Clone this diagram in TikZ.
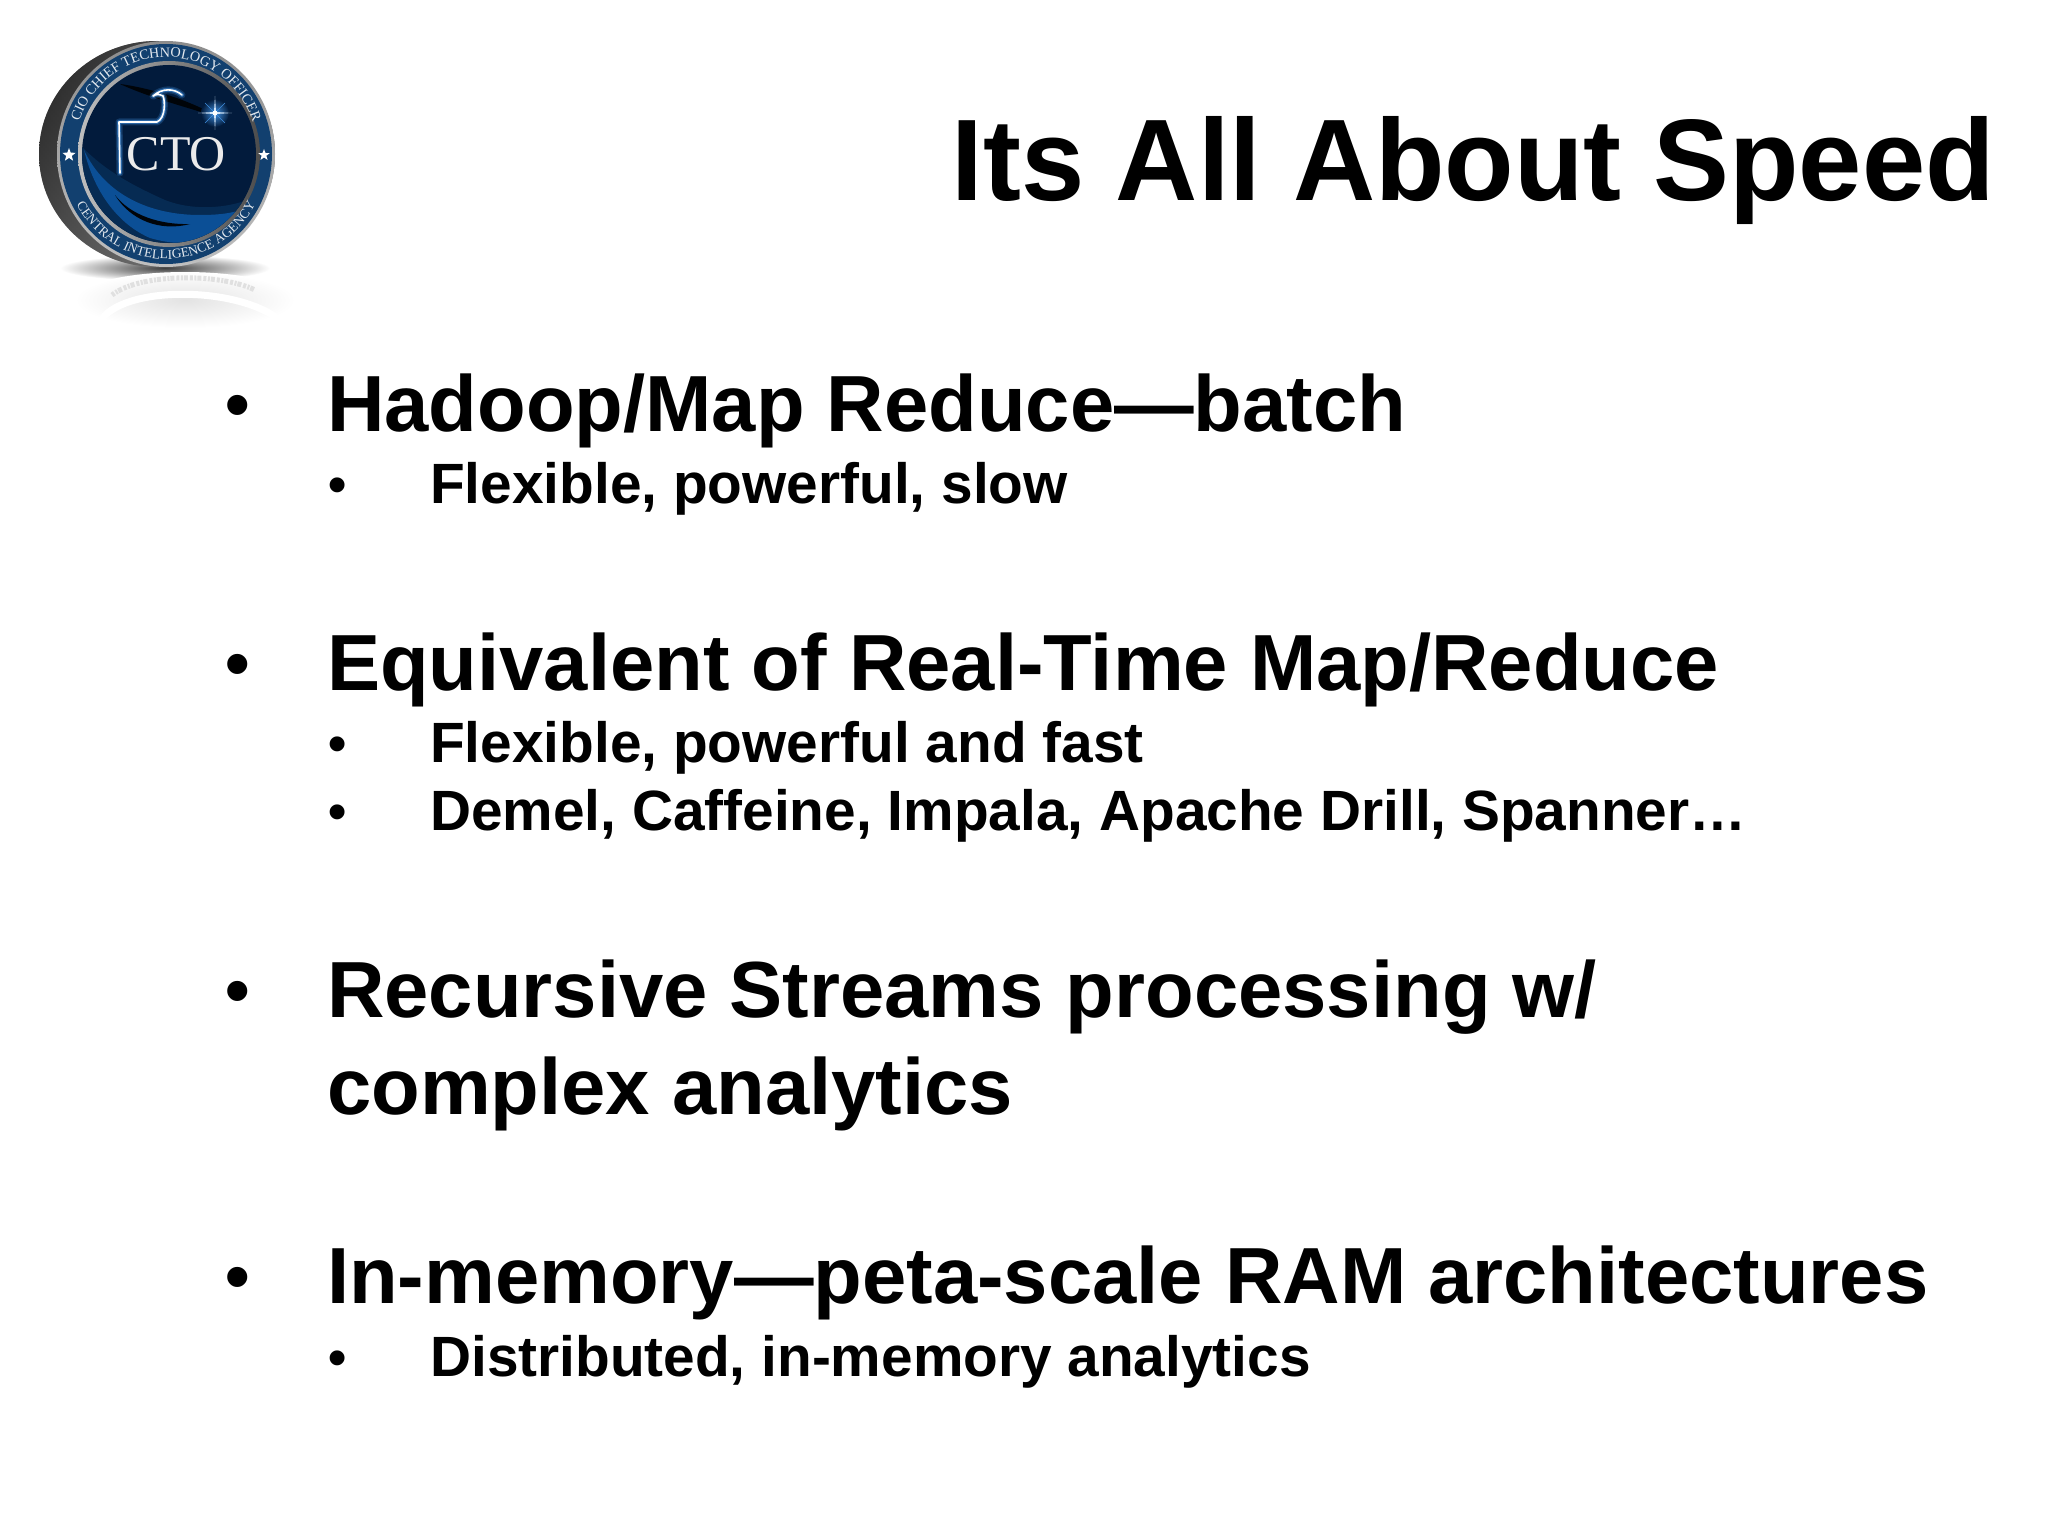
\documentclass[tikz,border=0pt]{standalone}
\usepackage{fontspec}
\setmainfont{Liberation Sans}
\newfontfamily\serifring{Liberation Serif}
\usetikzlibrary{decorations.text,shapes.geometric}
\definecolor{ringblue}{HTML}{12406F}
\definecolor{diskdark}{HTML}{021B3C}
\definecolor{swoosh}{HTML}{0B4F96}
\definecolor{glow}{HTML}{3F8FE0}
\newcommand{\ringfont}{\serifring\fontsize{14.2}{14.2}\selectfont\color{white!88!ringblue}}
\newcommand{\ringfontb}{\serifring\fontsize{13.4}{13.4}\selectfont\color{white!88!ringblue}}
\tikzset{
  x=1pt,y=-1pt,
  head/.style={anchor=base east,inner sep=0pt,font=\fontsize{116}{116}\selectfont\bfseries},
  lvlone/.style={anchor=base west,inner sep=0pt,font=\fontsize{79.6}{80}\selectfont\bfseries},
  lvltwo/.style={anchor=base west,inner sep=0pt,font=\fontsize{56.8}{57}\selectfont\bfseries},
  bulone/.style={anchor=base west,inner sep=0pt,font=\fontsize{70}{70}\selectfont\bfseries},
  bultwo/.style={anchor=base west,inner sep=0pt,font=\fontsize{52}{52}\selectfont\bfseries},
  ringstar/.style={star,star points=5,star point ratio=2.4,fill=white,inner sep=0pt,minimum size=14pt},
}
\begin{document}
\begin{tikzpicture}
\useasboundingbox (0,0) rectangle (2048,1536);
\fill[white] (0,0) rectangle (2048,1536);
% --- logo: ground shadow and reflection
\shade[inner color=black!75,outer color=white] (165,268) ellipse [x radius=105pt,y radius=13pt];
\shade[inner color=black!11,outer color=white] (185,300) ellipse [x radius=110pt,y radius=28pt];
\draw[white,line width=7pt] (100,322) .. controls (120,285) and (240,285) .. (282,322);
\draw[black!12,line width=5pt,dash pattern=on 3pt off 1.5pt on 2pt off 1pt on 4pt off 2pt] (112,295) .. controls (140,273) and (220,273) .. (255,290);
% --- logo: coin body
\shade[top color=black!85,bottom color=black!45] (157,154) ellipse [x radius=118pt,y radius=113pt];
\shade[left color=black!88,right color=black!40,opacity=.6] (157,154) ellipse [x radius=118pt,y radius=113pt];
% --- face and ring
\shade[top color=black!45,bottom color=black!25] (166,154) ellipse [x radius=109pt,y radius=113pt];
\fill[ringblue] (166,154) ellipse [x radius=106pt,y radius=110pt];
\shade[left color=black!25,right color=black!70] (169,154) ellipse [x radius=91pt,y radius=93pt];
\fill[diskdark] (169,154) ellipse [x radius=87pt,y radius=89pt];
\begin{scope}
  \clip (169,154) ellipse [x radius=87pt,y radius=89pt];
  \fill[swoosh!55!black] (80,145) .. controls (100,165) and (120,180) .. (165,200)
     .. controls (195,212) and (235,208) .. (258,195) -- (258,250) -- (80,250) -- cycle;
  \fill[swoosh] (84,150) .. controls (105,195) and (150,215) .. (200,215)
     .. controls (225,215) and (245,212) .. (258,200) -- (258,215)
     .. controls (230,240) and (190,250) .. (150,238) .. controls (120,225) and (95,195) .. (84,150) -- cycle;
  \fill[black!85!diskdark] (120,84) .. controls (150,88) and (190,100) .. (220,118)
     .. controls (190,108) and (150,98) .. (120,84) -- cycle;
  \fill[black!85!diskdark] (115,195) .. controls (130,215) and (160,225) .. (190,224)
     .. controls (160,232) and (130,220) .. (115,195) -- cycle;
\end{scope}
% --- ring text
\path[decorate,decoration={text along path,text align=center,
   text={|\ringfont|CIO CHIEF TECHNOLOGY OFFICER}}]
   ({166+92*cos(178)},{154-97*sin(178)}) arc[start angle=178,end angle=2,x radius=92pt,y radius=97pt];
\path[decorate,decoration={text along path,text align=center,
   text={|\ringfontb|CENTRAL INTELLIGENCE AGENCY}}]
   ({166+102*cos(195)},{154-105*sin(195)}) arc[start angle=195,end angle=345,x radius=102pt,y radius=105pt];
\node[ringstar] (starl) at (69,155) {};
\node[ringstar,minimum size=12pt] (starr) at (264,155) {};
% --- eagle line with glow
\foreach \w/\o/\c in {7/.25/glow,4/.55/glow,1.6/1/white}{
  \draw[\c,opacity=\o,line width=\w pt,line join=round,line cap=round]
    (120,173) -- (119,122) -- (157,122) .. controls (166,118) and (165,100) .. (163,96)
    .. controls (155,92) and (154,97) .. (153,96) .. controls (162,88) and (174,88) .. (182,95);
}
% --- bright star
\shade[inner color=glow,outer color=diskdark] (215,113) circle [radius=14pt];
\draw[glow,line width=.6pt] (205,103) -- (225,123) (205,123) -- (225,103);
\fill[white!75!glow] (215,96) -- (216,112) -- (232,113) -- (216,114) -- (215,130) -- (214,114) -- (198,113) -- (214,112) -- cycle;
\fill[white] (215,113) circle [radius=2.5pt];
% --- CTO
\node[anchor=base,inner sep=0pt,text=black!8,font=\serifring\fontsize{50}{50}\selectfont] (ctotext) at (176.5,170) {CTO};
% --- slide text
\node[head] (title) at (1995,200) {\scalebox{.981}[1]{Its All About Speed}};
\node[bulone] (b1) at (225,428) {•};
\node[lvlone] (t1) at (327,431) {Hadoop/Map Reduce—batch};
\node[bultwo] (b1a) at (328,502) {•};
\node[lvltwo] (t1a) at (430,503) {Flexible, powerful, slow};
\node[bulone] (b2) at (225,687) {•};
\node[lvlone] (t2) at (327,690) {Equivalent of Real-Time Map/Reduce};
\node[bultwo] (b2a) at (328,761) {•};
\node[lvltwo] (t2a) at (430,762) {Flexible, powerful and fast};
\node[bultwo] (b2b) at (328,829) {•};
\node[lvltwo] (t2b) at (430,830) {Demel, Caffeine, Impala, Apache Drill, Spanner…};
\node[bulone] (b3) at (225,1014) {•};
\node[lvlone] (t3) at (327,1017) {Recursive Streams processing w/};
\node[lvlone] (t3b) at (327,1114) {complex analytics};
\node[bulone] (b4) at (225,1300) {•};
\node[lvlone] (t4) at (327,1303) {In-memory—peta-scale RAM architectures};
\node[bultwo] (b4a) at (328,1375) {•};
\node[lvltwo] (t4a) at (430,1376) {Distributed, in-memory analytics};
\end{tikzpicture}
\end{document}
